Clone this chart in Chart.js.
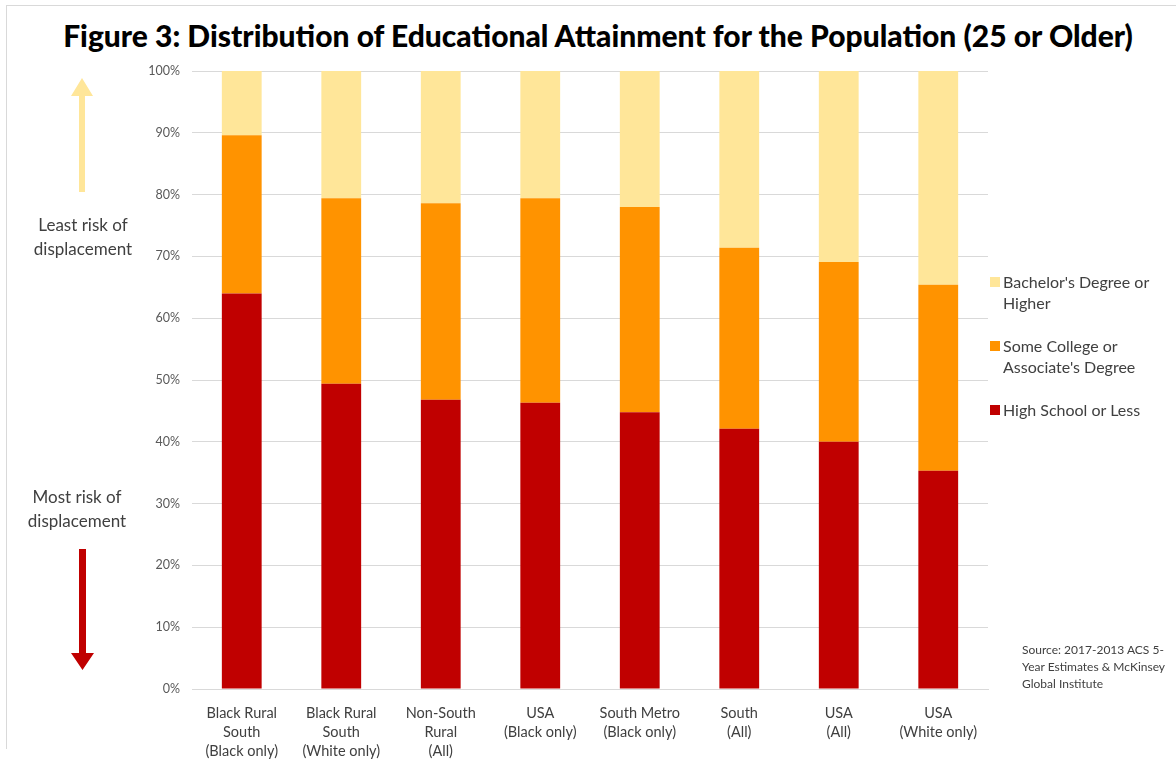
<!DOCTYPE html>
<html>
<head>
<meta charset="utf-8">
<script src="https://cdn.jsdelivr.net/npm/chart.js@4"></script>
<style>
  html, body { margin: 0; padding: 0; background: #fff; }
  #wrap { position: relative; width: 1176px; height: 759px; overflow: hidden; font-family: Lato, "Open Sans", sans-serif; }
  #frame { position: absolute; left: 6px; top: 5px; width: 1170px; height: 743px; border-left: 1px solid #d9d9d9; border-top: 1px solid #d9d9d9; }
  #title { position: absolute; left: 0; top: 17px; width: 1196px; text-align: center; font-family: Lato, sans-serif; font-weight: 900; font-size: 30px; color: #000; }
  #cv { position: absolute; left: 0; top: 0; }
  .note { position: absolute; width: 160px; text-align: center; font-size: 17px; color: #404040; line-height: 24px; }
  #legend { position: absolute; left: 990px; top: 271px; font-size: 16px; color: #404040; }
  .li { position: relative; padding-left: 13px; line-height: 21px; margin-bottom: 22px; width: 186px; }
  .li span.sw { position: absolute; left: 0; top: 6px; width: 10px; height: 10px; }
  #source { position: absolute; left: 1022px; top: 641px; font-size: 12px; line-height: 17px; color: #404040; }
  svg { position: absolute; left: 0; top: 0; }
</style>
</head>
<body>
<div id="wrap">
  <div id="frame"></div>
  <div id="title">Figure 3: Distribution of Educational Attainment for the Population (25 or Older)</div>
  <canvas id="cv" width="1176" height="759"></canvas>
  <svg width="1176" height="759">
    <polygon points="79,192 85,192 85,96 93,96 82,78 71,96 79,96" fill="#FFE699"/>
    <polygon points="79,549 86,549 86,653 94,653 82.5,670 71,653 79,653" fill="#C00000"/>
  </svg>
  <div class="note" style="left:3px; top:213px;">Least risk of<br>displacement</div>
  <div class="note" style="left:-3px; top:485px;">Most risk of<br>displacement</div>
  <div id="legend"></div>
  <div id="source">Source: 2017-2013 ACS 5-<br>Year Estimates &amp; McKinsey<br>Global Institute</div>
</div>
<script>
const categories = [
  ["Black Rural", "South", "(Black only)"],
  ["Black Rural", "South", "(White only)"],
  ["Non-South", "Rural", "(All)"],
  ["USA", "(Black only)"],
  ["South Metro", "(Black only)"],
  ["South", "(All)"],
  ["USA", "(All)"],
  ["USA", "(White only)"]
];
const highSchoolOrLess = [64.0, 49.4, 46.8, 46.3, 44.8, 42.1, 40.0, 35.3];
const someCollege      = [25.6, 30.0, 31.8, 33.1, 33.2, 29.3, 29.1, 30.1];
const bachelorsOrHigher= [10.4, 20.6, 21.4, 20.6, 22.0, 28.6, 30.9, 34.6];
const yTicks = [0, 10, 20, 30, 40, 50, 60, 70, 80, 90, 100];
const seriesNames = [["High School or Less"], ["Some College or", "Associate's Degree"], ["Bachelor's Degree or", "Higher"]];
const seriesColors = ["#C00000", "#FF9300", "#FFE699"];

const series = [highSchoolOrLess, someCollege, bachelorsOrHigher];
const datasets = series.map((d, i) => ({
  label: seriesNames[i].join(" "),
  data: d,
  backgroundColor: seriesColors[i],
  borderWidth: 0,
  categoryPercentage: 1,
  barPercentage: 0.4
}));

const lg = document.getElementById('legend');
for (let i = series.length - 1; i >= 0; i--) {
  const el = document.createElement('div');
  el.className = 'li';
  el.innerHTML = '<span class="sw" style="background:' + seriesColors[i] + '"></span>' + seriesNames[i].join('<br>');
  lg.appendChild(el);
}

new Chart(document.getElementById('cv'), {
  type: 'bar',
  data: { labels: categories, datasets },
  options: {
    responsive: false,
    animation: false,
    layout: { padding: { left: 140, right: 188, top: 71, bottom: 0 } },
    plugins: { legend: { display: false }, tooltip: { enabled: false }, title: { display: false } },
    scales: {
      x: {
        stacked: true,
        grid: { display: false },
        border: { display: true, color: '#d9d9d9' },
        ticks: { color: '#404040', font: { family: 'Lato', size: 14.5, lineHeight: 1.3 }, maxRotation: 0, autoSkip: false, padding: 7 },
        afterFit: s => { s.height = 70; }
      },
      y: {
        stacked: true,
        min: 0, max: 100,
        afterBuildTicks: s => { s.ticks = yTicks.map(v => ({ value: v })); },
        grid: { color: '#d9d9d9', drawTicks: false },
        border: { display: false },
        ticks: { color: '#595959', font: { family: 'Lato', size: 12.5 }, padding: 12, callback: v => v + '%' },
        afterFit: s => { s.width = 52; }
      }
    }
  }
});
</script>
</body>
</html>
